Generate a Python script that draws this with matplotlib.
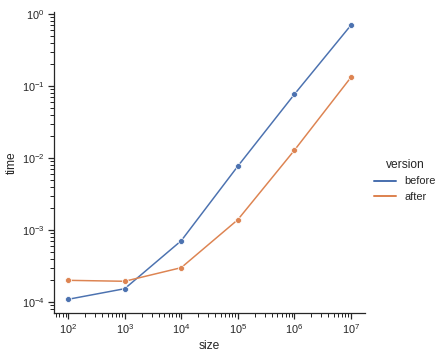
import matplotlib
matplotlib.use("Agg")
import matplotlib.pyplot as plt
import matplotlib.ticker as mticker
import seaborn as sns

sizes = [1e2, 1e3, 1e4, 1e5, 1e6, 1e7]
time_before = [1.09e-4, 1.53e-4, 7.1e-4, 7.7e-3, 0.0767, 0.70]
time_after = [2.0e-4, 1.94e-4, 3.0e-4, 1.39e-3, 0.0128, 0.132]
versions = ["before", "after"]

sns.set_theme(style="ticks")
plt.rcParams["font.family"] = ["Liberation Sans", "DejaVu Sans"]

pal = sns.color_palette("deep")
fig = plt.figure(figsize=(441 / 72, 361 / 72), dpi=72)
ax = fig.add_axes([54 / 441, 48 / 361, 311 / 441, 301.4 / 361])

for vals, name, col in zip([time_before, time_after], versions, pal):
    ax.plot(sizes, vals, color=col, lw=1.5, marker="o", ms=6,
            mec="white", mew=0.75, label=name)

ax.set_xscale("log")
ax.set_yscale("log")
for axis in (ax.xaxis, ax.yaxis):
    axis.set_minor_locator(mticker.LogLocator(base=10, subs=range(2, 10), numticks=20))
    axis.set_minor_formatter(mticker.NullFormatter())
ax.tick_params(which="major", length=6, width=1.25)
ax.tick_params(which="minor", length=4, width=1)
ax.set_xlabel("size")
ax.set_ylabel("time")
sns.despine(ax=ax)

handles = [plt.Line2D([], [], color=c, lw=2) for c in pal[:2]]
fig.legend(handles, versions, title="version", frameon=False,
           loc="center left", bbox_to_anchor=(364 / 441, 0.5))

fig.savefig("out.png", dpi=72)
